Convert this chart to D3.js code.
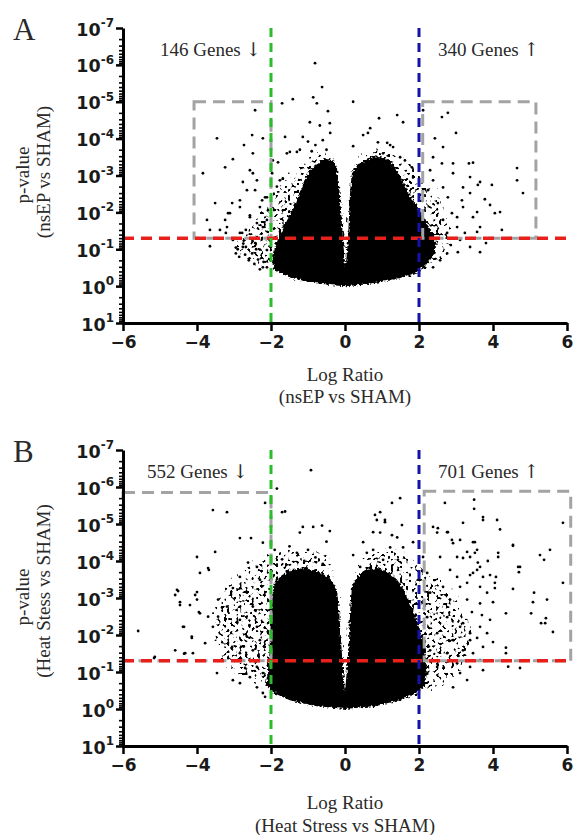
<!DOCTYPE html>
<html>
<head>
<meta charset="utf-8">
<script src="https://cdn.jsdelivr.net/npm/d3@7"></script>
<style>
  body { margin: 0; background: #fff; }
  .tlab { font-family: "DejaVu Sans", sans-serif; font-weight: bold; fill: #1a1a1a; }
  .serif { font-family: "Liberation Serif", "Times New Roman", serif; fill: #2a2a2a; }
  .arrow { font-family: "DejaVu Serif", "DejaVu Sans", serif; }
</style>
</head>
<body>
<svg id="chart" width="574" height="835"></svg>
<script>
// ---------- values ----------
const logRatioTicks = [-6, -4, -2, 0, 2, 4, 6];
const pExponents = [-7, -6, -5, -4, -3, -2, -1, 0, 1];
const pCut = 0.05;
const foldCut = 2;

const downLabels = ["146 Genes", "552 Genes"];
const upLabels = ["340 Genes", "701 Genes"];
const xTitles = [["Log Ratio", "(nsEP vs SHAM)"], ["Log Ratio", "(Heat Stress vs SHAM)"]];
const yTitles = [["p-value", "(nsEP vs SHAM)"], ["p-value", "(Heat Stess vs SHAM)"]];

// grey selection boxes: [log ratio from, log ratio to, p at top]
const boxesA = [[-4.08, -2, 1e-5], [2.1, 5.16, 1e-5]];
const boxesB = [[-6, -2, 1.4e-6], [2.14, 6.1, 1.3e-6]];

// outline of the solid black core of each cloud [log ratio, p]
const coreA = [[0,0.32],[-0.05,0.056],[-0.11,0.0087],[-0.16,0.0018],[-0.22,6.3e-4],[-0.32,3.9e-4],
  [-0.54,3.4e-4],[-0.73,4.7e-4],[-0.95,7.2e-4],[-1.08,1.35e-3],[-1.22,2.8e-3],[-1.35,6.3e-3],
  [-1.49,0.012],[-1.68,0.027],[-1.81,0.056],[-1.92,0.12],[-1.97,0.22],[-1.89,0.37],[-1.49,0.58],
  [-0.95,0.78],[-0.41,0.93],[0,1.0],[0.41,0.93],[0.95,0.78],[1.49,0.6],[1.89,0.45],[2.16,0.29],
  [2.35,0.17],[2.46,0.093],[2.43,0.049],[2.24,0.022],[2.03,9.8e-3],[1.81,4.2e-3],[1.62,1.8e-3],
  [1.43,8.1e-4],[1.27,4.7e-4],[1.08,3.4e-4],[0.81,3.0e-4],[0.54,3.9e-4],[0.32,5.2e-4],[0.19,8.1e-4],
  [0.14,2.5e-3],[0.11,0.012],[0.08,0.056],[0.03,0.22]];
const coreB = [[0,0.35],[-0.05,0.089],[-0.11,0.0138],[-0.16,2.1e-3],[-0.22,6e-4],[-0.41,2.9e-4],
  [-0.68,2e-4],[-1.08,1.55e-4],[-1.43,1.74e-4],[-1.70,2.4e-4],[-1.89,3.7e-4],[-1.97,1.12e-3],
  [-2.03,0.0138],[-2.08,0.089],[-2.14,0.22],[-1.97,0.35],[-1.49,0.58],[-0.81,0.83],[0,1.0],
  [0.81,0.83],[1.49,0.58],[1.89,0.39],[2.16,0.24],[2.22,0.089],[2.16,0.026],[2.03,7.2e-3],
  [1.84,2.1e-3],[1.62,6.9e-4],[1.41,3.2e-4],[1.16,2e-4],[0.89,1.55e-4],[0.57,1.74e-4],[0.35,2.6e-4],
  [0.19,4.5e-4],[0.14,2.1e-3],[0.11,0.0138],[0.05,0.089]];

// outline of the looser, speckled part of each cloud
const spreadA = [[0,1.0],[-1.22,0.83],[-1.97,0.54],[-2.43,0.37],[-2.84,0.24],[-3.05,0.145],[-3.11,0.078],
  [-2.97,0.035],[-2.70,0.016],[-2.43,7.2e-3],[-2.24,3.4e-3],[-2.03,1.6e-3],[-1.70,8.1e-4],[-1.35,3.9e-4],
  [-1.08,2.0e-4],[-0.73,1.6e-4],[-0.32,2.0e-4],[-0.14,3.9e-4],[-0.05,4.7e-3],[0,0.105],[0.05,4.7e-3],
  [0.14,3.9e-4],[0.27,2.0e-4],[0.54,1.5e-4],[0.95,1.3e-4],[1.35,1.5e-4],[1.62,2.0e-4],[1.89,3.9e-4],
  [2.16,7.2e-4],[2.43,1.6e-3],[2.70,3.9e-3],[2.90,9.8e-3],[3.0,0.027],[3.05,0.065],[2.95,0.145],
  [2.75,0.27],[2.43,0.5],[1.76,0.78],[0.95,1.0]];
const spreadB = [[0,1.0],[-1.22,0.65],[-1.97,0.39],[-2.57,0.27],[-3.05,0.166],[-3.38,0.078],[-3.59,0.026],
  [-3.73,7.2e-3],[-3.70,2.1e-3],[-3.51,6.9e-4],[-3.24,2.9e-4],[-2.89,1.4e-4],[-2.51,7.2e-5],[-2.16,5e-5],
  [-1.76,3.7e-5],[-1.22,3.2e-5],[-0.68,3.7e-5],[-0.27,6.9e-5],[-0.11,2.4e-4],[-0.05,3.9e-3],[0,0.31],
  [0.05,3.9e-3],[0.11,2.4e-4],[0.27,6.9e-5],[0.68,3.7e-5],[1.08,3.1e-5],[1.49,3.7e-5],[1.89,5.7e-5],
  [2.30,1.07e-4],[2.70,2.4e-4],[3.05,6e-4],[3.32,1.55e-3],[3.51,3.9e-3],[3.59,0.0138],[3.51,0.048],
  [3.24,0.12],[2.84,0.27],[2.30,0.5],[1.49,0.78],[0.81,1.0]];

// single genes standing out from the cloud [log ratio, p]
const pointsA = [[-0.81,9e-7],[-0.62,4e-6],[-0.86,7.6e-6],[-0.76,1.1e-5],[-1.70,1.1e-5],[-1.41,8.5e-6],
  [0.22,1e-5],[-2.43,1.7e-5],[-0.46,1.8e-5],[-0.95,3.6e-5],[-0.68,4.4e-5],[-0.41,3.8e-5],[-3.46,9.8e-5],
  [-2.51,8e-5],[-2.22,9.8e-5],[-1.62,9e-5],[-1.14,9e-5],[-3.84,8.7e-4],[-3.24,6e-4],[-3.03,3.6e-4],
  [-2.73,1.5e-4],[-2.49,2.5e-4],[-2.38,1.35e-3],[-3.51,5.6e-3],[-3.73,0.016],[-3.65,0.030],[-3.65,0.083],
  [-3.16,0.0105],[-3.05,5.6e-3],[-2.65,2.5e-3],[-2.49,8.7e-4],[-2.84,4.7e-3],[-3.38,0.030],[-3.22,0.036],
  [-2.95,0.13],[-2.86,0.16],[-2.68,0.087],[-2.78,0.036],[-2.57,0.0135],[-2.30,7.2e-3],[-2.11,3.9e-3],
  [-1.95,3.9e-4],[-1.57,2.5e-4],[-1.22,2e-4],[-1.76,1.35e-3],[-2.22,0.025],[-2.38,0.047],[-2.35,0.19],
  [-2.11,0.31],[-1.49,2.3e-4],[-1.30,2.3e-4],[-1.81,4.4e-4],[0.22,1.6e-4],[0.89,1.26e-4],[1.22,1.5e-4],
  [0.49,8e-5],[0.62,7e-5],[0.92,2.8e-5],[0.68,5.2e-5],[-2.76,1.5e-3],[-2.57,7.2e-4],[-2.43,2.5e-3],
  [-2.24,4.7e-3],[-2.84,7.2e-3],[-3.11,0.0105],[-3.24,0.016],[-2.57,0.012],[-2.38,0.0195],[-2.11,0.016],
  [-2.08,8.7e-3],[-2.16,3.9e-3],[-1.84,2e-3],[-1.68,1.2e-3],[-1.97,8.7e-4],[-2.68,0.030],[-2.84,0.036],
  [-3.03,0.056],[-2.76,0.087],[-2.51,0.13],[-2.22,0.31],[-2.43,0.068],[-2.11,0.105],[-2.03,0.19],
  [-3.19,0.025],[-2.9,0.1],[-2.7,0.14],[-2.6,0.2],[-2.45,0.25],[-2.3,0.35],[-2.2,0.22],[-2.5,0.06],
  [-2.75,0.07],[-2.95,0.09],[-2.4,0.1],[-1.0,1.2e-4],[-0.8,1.5e-4],[-0.6,1.1e-4],[-0.5,2e-4],
  [-0.9,2.2e-4],[-0.4,7e-5],
  [1.41,2.3e-5],[1.57,3.6e-5],[2.11,1.7e-5],[2.62,2.6e-5],[2.78,2e-5],[3.0,7e-5],[2.43,9.8e-5],
  [2.65,1.7e-4],[2.38,3.2e-4],[2.62,4.7e-4],[2.92,4.7e-4],[3.35,4.7e-4],[3.46,4.5e-4],[2.92,8.7e-4],
  [4.65,6.3e-4],[4.65,1.35e-3],[4.81,3e-3],[3.97,1.8e-3],[3.59,1.8e-3],[3.65,1.5e-3],[3.19,2.1e-3],
  [3.38,3e-3],[3.16,4.7e-3],[3.78,4.4e-3],[3.92,6.3e-3],[4.05,0.0105],[4.19,0.0098],[3.57,0.0098],
  [3.46,0.0135],[3.65,0.025],[4.24,0.030],[3.57,0.034],[3.38,0.087],[3.65,0.12],[3.81,0.068],[3.11,0.056],
  [3.19,7.2e-3],[3.03,0.0135],[3.38,1.1e-3],[1.14,1.3e-4],[1.30,1.7e-4],[1.03,2.5e-4],[1.49,3.2e-4],
  [1.62,3.9e-4],[1.81,6e-4],[1.84,1.1e-3],[2.30,7.2e-4],[2.38,1.35e-3],[2.24,2.5e-3],[2.65,2.1e-3],
  [2.78,3.9e-3],[2.51,5.6e-3],[2.89,0.0105],[2.65,0.016],[3.03,0.025],[2.76,0.036],[3.24,0.036],
  [2.86,0.077],[3.05,0.12],[2.76,0.13],[2.57,0.2],[2.38,0.31]];
const pointsB = [[-0.92,3.5e-7],[-1.84,1.1e-6],[-2.16,2.7e-6],[-1.70,4.8e-6],[-1.62,4.6e-6],[-3.57,4.2e-6],
  [-3.19,4.8e-6],[-1.14,1.2e-5],[-0.86,1.2e-5],[-0.62,1.1e-5],[-0.41,1.55e-5],[-1.22,1.7e-5],[-2.84,2.4e-5],
  [-2.54,2.4e-5],[-2.22,3.2e-5],[-3.51,5.7e-5],[-4.0,7.8e-5],[-3.70,1.55e-4],[-3.92,2.1e-4],[-4.46,1.55e-3],
  [-4.51,6.5e-4],[-4.0,6.9e-4],[-4.0,1.1e-3],[-3.92,2.6e-3],[-4.38,6e-3],[-4.14,0.012],[-5.59,7.8e-3],
  [-4.59,0.026],[-4.32,0.031],[-5.14,0.039],[-4.11,0.031],[-3.46,0.107],[-3.78,0.0166],[-3.57,6e-3],
  [-3.43,3.2e-3],[-3.70,3.2e-3],[-3.43,1.1e-3],[-3.19,1.7e-3],[-3.03,5.4e-4],[-2.84,2.7e-4],[-2.62,1.1e-4],
  [-2.38,1.45e-4],[-2.30,3.2e-4],[-2.65,7.2e-4],[-2.49,1.7e-3],[-2.84,3.9e-3],[-2.38,6e-3],[-2.65,0.011],
  [-2.30,0.0138],[-3.05,0.021],[-2.84,0.031],[-2.49,0.026],[-3.03,0.166],[-2.84,0.2],[-2.57,0.138],
  [-2.38,0.26],[-2.22,0.37],[-2.16,0.47],[-2.70,0.078],[-2.38,0.073],[-2.22,0.107],[-4.35,0.032],
  [-5.16,0.042],[-4.35,6e-3],[-4.54,6e-4],[-4.59,8.3e-4],[-4.46,1.3e-3],[-4.19,1.55e-3],[-3.95,2.4e-3],
  [-4.05,8.3e-4],[-4.14,0.011],[-3.68,1.74e-4],[-1.5,4e-5],[-1.3,6e-5],[-1.0,5e-5],[-0.8,8e-5],
  [-0.6,1.2e-4],[-1.7,9e-5],[-1.1,1e-4],[-0.5,3e-5],[-1.9,5e-5],
  [1.49,2e-6],[1.27,2.7e-6],[2.70,2.7e-6],[3.49,2.2e-6],[3.49,3.9e-6],[3.73,6.5e-6],[3.73,7.8e-6],
  [4.11,7.8e-6],[4.19,1.4e-5],[3.19,9.3e-6],[5.89,9.3e-6],[4.54,3.9e-5],[5.27,6.9e-5],[5.38,9.3e-5],
  [5.54,5e-5],[4.73,1.45e-4],[4.70,2e-4],[5.89,3.9e-4],[4.54,5.7e-4],[5.11,7.2e-4],[5.08,1.3e-3],
  [5.46,1.1e-3],[5.03,2.6e-3],[5.43,3.5e-3],[5.30,4.8e-3],[5.41,4.8e-3],[5.62,8.3e-3],[4.35,2.6e-3],
  [4.35,0.022],[4.35,0.031],[4.41,0.072],[4.73,0.078],[4.05,5.4e-4],[4.05,3.9e-4],[4.08,2.7e-4],
  [3.92,2.4e-4],[3.59,1.1e-4],[3.57,1.74e-4],[4.14,7.8e-5],[4.14,6e-5],[3.86,1e-4],[3.30,5.7e-5],
  [3.38,7.8e-5],[3.03,7.8e-5],[3.57,5e-5],[3.11,2.7e-5],[2.89,2.7e-5],[2.78,1.66e-5],[2.51,1.3e-5],
  [2.38,1.2e-5],[3.46,3.1e-5],[3.65,1.45e-4],[3.73,2.7e-4],[3.46,2.1e-4],[3.30,3.9e-4],[3.03,2.7e-4],
  [3.65,5e-4],[3.84,7.2e-4],[4.0,1.3e-3],[3.65,1.4e-3],[3.43,2.4e-3],[3.70,2.9e-3],[3.92,3.9e-3],
  [3.65,6e-3],[3.84,8.9e-3],[3.57,0.012],[3.38,8.9e-3],[3.19,4.8e-3],[4.0,0.0155],[3.73,0.021],
  [3.46,0.031],[3.65,0.048],[3.38,0.073],[3.73,0.089],[3.11,0.107],[3.30,0.165],[2.92,0.26],
  [1.08,7.8e-6],[0.86,7.8e-6],[0.81,5.7e-6],[0.95,1.7e-5],[0.49,3.1e-5],[0.22,6.9e-5],[0.59,6e-5],
  [0.76,5e-5],[1.03,9.3e-5],[0.41,1.45e-4],[1.22,4.3e-5],[1.41,2.3e-5],[1.43,9.3e-5],[0.95,4.8e-6],
  [1.08,8.9e-6],[1.54,1.07e-5],[0.76,1.66e-5],[1.27,2e-5],[1.84,3.1e-5],[2.49,1.7e-5],[2.76,1.66e-5],
  [1.57,4.3e-5],[2.11,7.8e-5],[2.57,7.8e-5],[2.92,3.3e-5],[3.51,3.1e-5],[3.51,6e-5],[3.19,8.3e-5],
  [3.38,2.4e-4],[2.84,1.74e-4],[3.11,5e-4],[2.65,5e-4],[2.84,1.1e-3],[3.30,1.1e-3],[2.76,3.3e-3],
  [3.11,6e-3],[2.92,0.0138],[2.49,8.9e-3],[3.38,0.0138],[3.19,0.026],[2.76,0.031],[2.49,0.073],
  [3.03,0.058],[2.30,0.026],[2.22,3.3e-3],[2.30,7.2e-4],[2.22,2.1e-4],[4.54,3.7e-5],[4.68,1.45e-4]];

// ---------- drawing ----------
const svg = d3.select("#chart");
const defs = svg.append("defs");

// speckle texture for the looser part of the cloud, thinning out toward its rim
const flt = defs.append("filter").attr("id", "speckle")
  .attr("x", "0").attr("y", "0").attr("width", "1").attr("height", "1")
  .attr("color-interpolation-filters", "sRGB");
flt.append("feGaussianBlur").attr("in", "SourceAlpha").attr("stdDeviation", 7).attr("result", "b");
flt.append("feTurbulence").attr("type", "fractalNoise").attr("baseFrequency", 0.33)
  .attr("numOctaves", 1).attr("seed", 4).attr("result", "n");
flt.append("feColorMatrix").attr("in", "n").attr("type", "matrix")
  .attr("values", "0 0 0 0 0  0 0 0 0 0  0 0 0 0 0  1 0 0 0 0").attr("result", "na");
flt.append("feComposite").attr("in", "na").attr("in2", "b").attr("operator", "arithmetic")
  .attr("k1", 0).attr("k2", 0.6).attr("k3", 0.315).attr("k4", 0).attr("result", "s");
const ct = flt.append("feComponentTransfer").attr("in", "s").attr("result", "t");
ct.append("feFuncA").attr("type", "linear").attr("slope", 22).attr("intercept", -14.3);
flt.append("feComposite").attr("in", "t").attr("in2", "SourceAlpha").attr("operator", "in");

// slightly ragged edge for the solid core
const rough = defs.append("filter").attr("id", "rough")
  .attr("x", "-0.05").attr("y", "-0.05").attr("width", "1.1").attr("height", "1.1");
rough.append("feTurbulence").attr("type", "fractalNoise").attr("baseFrequency", 0.45)
  .attr("numOctaves", 1).attr("seed", 9).attr("result", "rn");
rough.append("feDisplacementMap").attr("in", "SourceGraphic").attr("in2", "rn")
  .attr("scale", 6).attr("xChannelSelector", "R").attr("yChannelSelector", "G");

const panels = [
  {letter: "A", top: 28, bottom: 323, core: coreA, spread: spreadA, points: pointsA, boxes: boxesA,
   downX: 160, xTitleY: [381, 403], yTitleY: [175, 172]},
  {letter: "B", top: 450, bottom: 746, core: coreB, spread: spreadB, points: pointsB, boxes: boxesB,
   downX: 147, xTitleY: [809, 832], yTitleY: [597, 591]}
];

panels.forEach((p, i) => drawPanel(p, i));

function drawPanel(cfg, i) {
  const g = svg.append("g");

  const x = d3.scaleLinear().domain([-6, 6]).range([123, 567]);
  const y = d3.scaleLog().domain([10, 1e-7]).range([cfg.bottom, cfg.top]);

  const shape = d3.line().x(d => x(d[0])).y(d => y(d[1])).curve(d3.curveLinearClosed);

  // cloud of genes
  g.append("path").attr("d", shape(cfg.spread))
    .attr("fill", "#000").attr("filter", "url(#speckle)");
  g.append("path").attr("d", shape(cfg.core)).attr("fill", "#000").attr("filter", "url(#rough)");
  g.selectAll("circle.gene").data(cfg.points).enter().append("circle")
    .attr("class", "gene")
    .attr("cx", d => x(d[0])).attr("cy", d => y(d[1])).attr("r", 1.4)
    .attr("fill", "#000");

  // grey selection boxes
  cfg.boxes.forEach(b => {
    g.append("rect")
      .attr("x", x(b[0])).attr("y", y(b[2]))
      .attr("width", x(b[1]) - x(b[0])).attr("height", y(pCut) - y(b[2]))
      .attr("fill", "none").attr("stroke", "#a3a3a3").attr("stroke-width", 3)
      .attr("stroke-dasharray", "12,7");
  });

  // cut-off lines
  g.append("line")
    .attr("x1", x(-6)).attr("x2", x(6)).attr("y1", y(pCut)).attr("y2", y(pCut))
    .attr("stroke", "#e8201c").attr("stroke-width", 3.5).attr("stroke-dasharray", "11,7");
  g.append("line")
    .attr("x1", x(-foldCut)).attr("x2", x(-foldCut)).attr("y1", y(1e-7)).attr("y2", y(10))
    .attr("stroke", "#2bbb2b").attr("stroke-width", 3).attr("stroke-dasharray", "9,6");
  g.append("line")
    .attr("x1", x(foldCut)).attr("x2", x(foldCut)).attr("y1", y(1e-7)).attr("y2", y(10))
    .attr("stroke", "#1414a8").attr("stroke-width", 3).attr("stroke-dasharray", "9,6");

  // y axis: minor ticks, then major ticks
  const minor = [];
  for (let k = -7; k < 1; k++) for (let m = 2; m < 10; m++) minor.push(m * Math.pow(10, k));
  g.append("g").attr("transform", "translate(123,0)")
    .call(d3.axisLeft(y).tickValues(minor).tickSize(4).tickSizeOuter(0).tickFormat(""))
    .call(a => a.select(".domain").remove())
    .call(a => a.selectAll(".tick line").attr("stroke-width", 1.6));
  const yAx = g.append("g").attr("transform", "translate(123,0)")
    .call(d3.axisLeft(y).tickValues(pExponents.map(e => Math.pow(10, e)))
      .tickSize(7).tickSizeOuter(0).tickFormat(""));
  yAx.select(".domain").attr("stroke-width", 3);
  yAx.selectAll(".tick line").attr("stroke-width", 2.5);
  yAx.selectAll(".tick").each(function(d, j) {
    const t = d3.select(this).append("text").attr("class", "tlab")
      .attr("x", -9).attr("y", 7).attr("text-anchor", "end").attr("font-size", 17.5);
    t.append("tspan").text("10");
    t.append("tspan").attr("font-size", 12).attr("dy", -8.5).text(pExponents[j]);
  });

  // x axis
  const xAx = g.append("g").attr("transform", `translate(0,${cfg.bottom})`)
    .call(d3.axisBottom(x).tickValues(logRatioTicks).tickSize(8).tickSizeOuter(0).tickPadding(5));
  xAx.select(".domain").attr("stroke-width", 3);
  xAx.selectAll(".tick line").attr("stroke-width", 2.5);
  xAx.selectAll(".tick text").attr("class", "tlab").attr("font-size", 17);

  // texts
  g.append("text").attr("class", "serif").attr("x", 13).attr("y", cfg.top + 12)
    .attr("font-size", 31).text(cfg.letter);
  const dl = g.append("text").attr("class", "serif").attr("x", cfg.downX).attr("y", cfg.top + 28)
    .attr("font-size", 19);
  dl.append("tspan").text(downLabels[i] + " ");
  dl.append("tspan").attr("class", "arrow").attr("font-size", 19).text("\u2193");
  const ul = g.append("text").attr("class", "serif").attr("x", 438).attr("y", cfg.top + 28)
    .attr("font-size", 19);
  ul.append("tspan").text(upLabels[i] + " ");
  ul.append("tspan").attr("class", "arrow").attr("font-size", 19).text("\u2191");
  xTitles[i].forEach((s, k) => {
    g.append("text").attr("class", "serif").attr("x", x(0)).attr("y", cfg.xTitleY[k])
      .attr("text-anchor", "middle").attr("font-size", 19).text(s);
  });
  yTitles[i].forEach((s, k) => {
    const cx = k === 0 ? 29 : 50;
    g.append("text").attr("class", "serif")
      .attr("transform", `translate(${cx},${cfg.yTitleY[k]}) rotate(-90)`)
      .attr("text-anchor", "middle").attr("font-size", 19).text(s);
  });
}
</script>
</body>
</html>
